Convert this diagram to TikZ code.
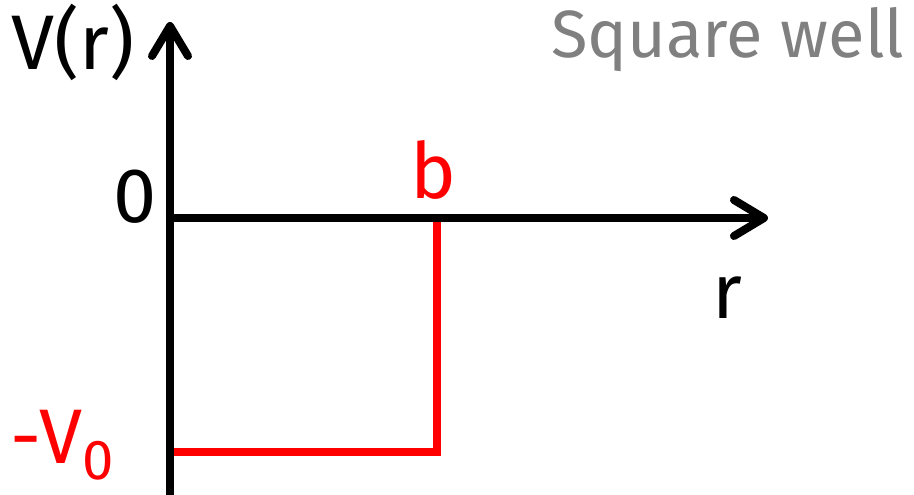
\documentclass[tikz,border=0pt]{standalone}
\usepackage{fontspec}
\setmainfont{Fira Sans}
\usetikzlibrary{arrows.meta}

\begin{document}
\begin{tikzpicture}[x=0.01cm, y=-0.01cm,
  axis/.style={line width=0.08cm, black, -{Straight Barb[length=0.3cm, width=0.36cm, round]}},
  well/.style={line width=0.08cm, red},
  lbl/.style={inner sep=0pt, font=\fontsize{22}{26}\selectfont}]
\useasboundingbox (0,0) rectangle (914,495);

\coordinate (o)    at (170,218);
\coordinate (ytop) at (170,22);
\coordinate (ybot) at (170,500);
\coordinate (xend) at (768,218);
\coordinate (wtop) at (437,222);
\coordinate (wbot) at (437,452);
\coordinate (wleft) at (173,452);

% the well
\draw[well] (wtop) -- (wbot) -- (wleft);

% axes
\draw[axis] (ybot) -- (ytop);
\draw[axis] (166,218) -- (xend);

\node[lbl] (vr)   at (73,42)   {V(r)};
\node[lbl] (zero) at (135,197) {0};
\node[lbl, red] (b) at (433,170) {b};
\node[lbl] (r)    at (727,298) {r};
\node[lbl, red, anchor=base west] (vnull) at (10,464)
  {-V\raisebox{-0.2em}{\fontsize{16}{18}\selectfont 0}};
\node[lbl, text=black!50, anchor=east, font=\fontsize{19}{22}\selectfont] (title) at (905,40) {Square well};
\end{tikzpicture}
\end{document}
